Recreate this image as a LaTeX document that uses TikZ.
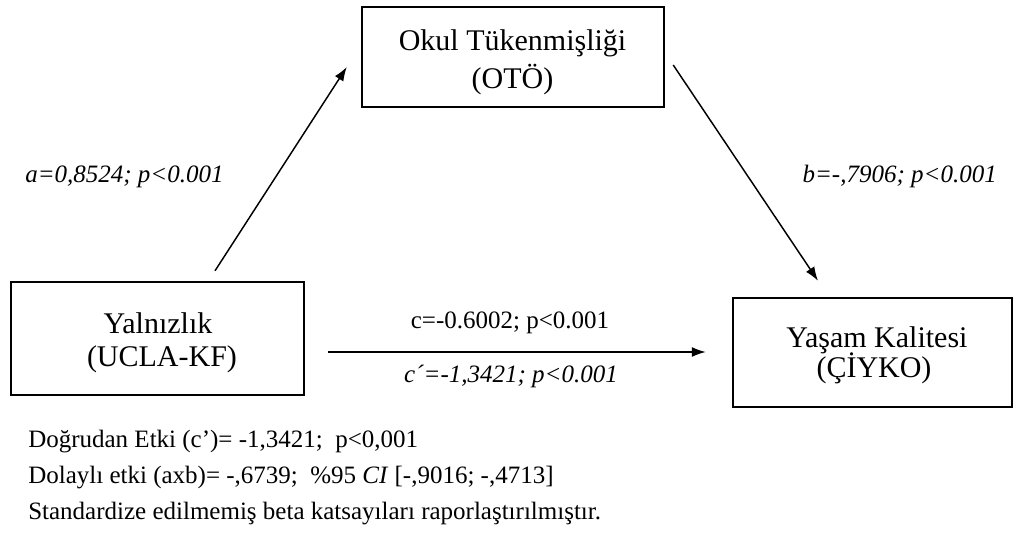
\documentclass[tikz,border=0pt]{standalone}
\usepackage{fontspec}
\setmainfont{Liberation Serif}
\usetikzlibrary{arrows.meta,calc}
\begin{document}
\begin{tikzpicture}[x=0.75pt,y=-0.75pt,
  box/.style={draw, line width=1.8pt, inner sep=0pt},
  boxtxt/.style={inner sep=0pt, anchor=base, font=\fontsize{22.5}{27}\selectfont},
  lbl/.style={inner sep=0pt, anchor=base, font=\fontsize{18.75}{22}\selectfont},
  arr/.style={line width=1.1pt, -{Latex[length=10.5pt,width=7.5pt]}}]
\useasboundingbox (0,0) rectangle (1016,549);
% boxes
\node[box, minimum width=226.5pt, minimum height=75pt] (oto) at (513,57) {};
\node[box, minimum width=219.75pt, minimum height=84.75pt] (yal) at (157.5,338.5) {};
\node[box, minimum width=209.25pt, minimum height=81.75pt] (yas) at (872.5,352.5) {};
% box texts
\node[boxtxt] (otoA) at (512.5,51) {Okul Tükenmişliği};
\node[boxtxt] (otoB) at (512.5,89) {(OTÖ)};
\node[boxtxt] (yalA) at (158,333) {Yalnızlık};
\node[boxtxt] (yalB) at (162,366) {(UCLA-KF)};
\node[boxtxt] (yasA) at (877,347) {Yaşam Kalitesi};
\node[boxtxt] (yasB) at (874,377) {(ÇİYKO)};
% path labels
\node[lbl, anchor=base west] (la) at (25,182) {\textit{a=0,8524; p<0.001}};
\node[lbl, anchor=base east] (lb) at (997,182) {\textit{b=-,7906; p<0.001}};
\node[lbl] (lc) at (510,328) {c=-0.6002; p<0.001};
\node[lbl] (lc2) at (511,382) {\textit{c´=-1,3421; p<0.001}};
% notes
\node[lbl, anchor=base west] (n1) at (28,447) {Doğrudan Etki (c’)= -1,3421;\ \ p<0,001};
\node[lbl, anchor=base west] (n2) at (28,483) {Dolaylı etki (axb)= -,6739;\ \ \%95 \textit{CI} [-,9016; -,4713]};
\node[lbl, anchor=base west] (n3) at (28,519) {Standardize edilmemiş beta katsayıları raporlaştırılmıştır.};
% arrows
\draw[arr] ($(yal.north)+(57.5,-10)$) -- ($(oto.west)+(-14,10)$);
\draw[arr] ($(oto.east)+(8,8)$) -- ($(yas.north)+(-54.5,-16)$);
\draw[arr] ($(yal.east)+(23,13.5)$) -- ($(yas.west)+(-26,-0.5)$);
\end{tikzpicture}
\end{document}
